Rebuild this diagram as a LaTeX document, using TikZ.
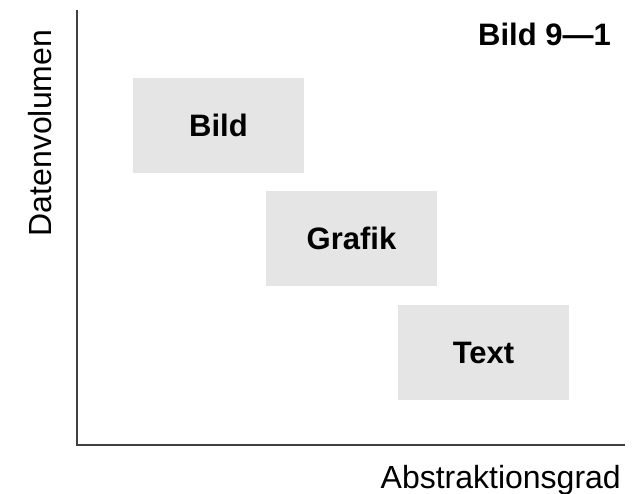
\documentclass[tikz,border=0pt]{standalone}
\usepackage{fontspec}
\setmainfont{Liberation Sans}
\usetikzlibrary{positioning}
\definecolor{feld}{HTML}{E5E5E5}
\definecolor{achse}{HTML}{404040}
\tikzset{
  kasten/.style={fill=feld,minimum width=171pt,minimum height=95pt,inner sep=0pt,
    font=\fontsize{31}{36}\selectfont\bfseries},
  ax/.style={achse,line width=2pt},
  beschr/.style={font=\fontsize{32}{37}\selectfont,inner sep=0pt},
}

\begin{document}
\begin{tikzpicture}[x=1pt,y=-1pt]
  \useasboundingbox (0,0) rectangle (637,494);
  \coordinate (oben) at (76.5,10);
  \coordinate (ursprung) at (76.5,444.5);
  \coordinate (rechts) at (625,444.5);
  \draw[ax] (oben) -- (ursprung) -- (rechts);
  \node[kasten] (bild) at (218.5,125.5) {Bild};
  \node[kasten] (grafik) at (351.5,238.5) {Grafik};
  \node[kasten] (text) at (483.5,352.5) {Text};
  \node[beschr,anchor=base east] (xlab) at (621,488) {Abstraktionsgrad};
  \node[beschr,rotate=90] (ylab) at (40,133) {Datenvolumen};
  \node[beschr,font=\fontsize{31}{36}\selectfont\bfseries,anchor=base east] (titel) at (611,46) {Bild 9---1};
\end{tikzpicture}
\end{document}
